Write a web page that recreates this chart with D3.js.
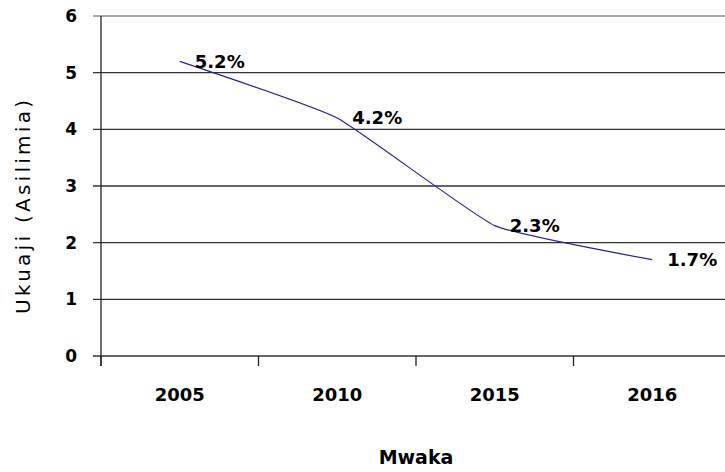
<!DOCTYPE html>
<html>
<head>
<meta charset="utf-8">
<script src="https://cdn.jsdelivr.net/npm/d3@7"></script>
<style>
  body { margin: 0; background: #fff; }
  text { font-family: "DejaVu Sans", Verdana, sans-serif; fill: #000; }
</style>
</head>
<body>
<svg width="725" height="472"></svg>
<script>
var years = ["2005", "2010", "2015", "2016"];
var growth = [5.2, 4.2, 2.3, 1.7];
var yTicks = [0, 1, 2, 3, 4, 5, 6];

var svg = d3.select("svg");

// plot area (right edge runs past the picture, as in the reference)
var plotLeft = 101, plotRight = 731, plotTop = 16, plotBottom = 356;

var x = d3.scaleBand().domain(years).range([plotLeft, plotRight]).padding(0);
var y = d3.scaleLinear().domain([0, 6]).range([plotBottom, plotTop]);

// gridlines
svg.append("g").selectAll("line")
    .data(yTicks)
    .enter().append("line")
    .attr("x1", plotLeft - 8)
    .attr("x2", plotRight)
    .attr("y1", function(d) { return y(d); })
    .attr("y2", function(d) { return y(d); })
    .style("stroke", function(d) { return d == 6 ? "#8a8a8a" : "#333"; })
    .style("stroke-width", 1.3);

// y axis
var yAxis = svg.append("g")
    .attr("transform", "translate(" + plotLeft + ",0)")
    .call(d3.axisLeft(y).tickValues(yTicks).tickSize(8).tickPadding(16).tickFormat(d3.format("d")));
yAxis.select(".domain").remove();
yAxis.selectAll("line").remove();
yAxis.selectAll("text")
    .style("font-size", "17px")
    .style("font-weight", "bold");

svg.append("line")
    .attr("x1", plotLeft).attr("x2", plotLeft)
    .attr("y1", plotTop).attr("y2", plotBottom + 10)
    .style("stroke", "#222")
    .style("stroke-width", 1.3);

// x axis: ticks at category boundaries
var bounds = years.map(function(d) { return x(d); }).concat([x.range()[1]]);
svg.append("g").selectAll("line")
    .data(bounds)
    .enter().append("line")
    .attr("x1", function(d) { return d; })
    .attr("x2", function(d) { return d; })
    .attr("y1", plotBottom)
    .attr("y2", plotBottom + 10)
    .style("stroke", "#222")
    .style("stroke-width", 1.3);

var xAxis = svg.append("g")
    .attr("transform", "translate(0," + plotBottom + ")")
    .call(d3.axisBottom(x).tickSize(0).tickPadding(32));
xAxis.select(".domain").remove();
xAxis.selectAll("text")
    .style("font-size", "18px")
    .style("font-weight", "bold");

// line (lightly smoothed)
var pts = years.map(function(d, i) { return [x(d) + x.bandwidth() / 2, y(growth[i])]; });
svg.append("path")
    .datum(pts)
    .attr("d", d3.line().curve(d3.curveCardinal.tension(0.6)))
    .style("fill", "none")
    .style("stroke", "#23239a")
    .style("stroke-width", 1.2);

// data labels
svg.append("g").selectAll("text")
    .data(pts)
    .enter().append("text")
    .attr("x", function(d) { return d[0] + 15; })
    .attr("y", function(d) { return d[1]; })
    .attr("dy", "0.36em")
    .style("font-size", "18px")
    .style("font-weight", "bold")
    .text(function(d, i) { return growth[i] + "%"; });

// axis titles
svg.append("text")
    .attr("x", (plotLeft + plotRight) / 2)
    .attr("y", 464)
    .attr("text-anchor", "middle")
    .style("font-size", "19px")
    .style("font-weight", "bold")
    .text("Mwaka");

svg.append("text")
    .attr("transform", "translate(30,207) rotate(-90)")
    .attr("text-anchor", "middle")
    .attr("textLength", 214)
    .attr("lengthAdjust", "spacing")
    .style("font-size", "20px")
    .text("Ukuaji (Asilimia)");
</script>
</body>
</html>
